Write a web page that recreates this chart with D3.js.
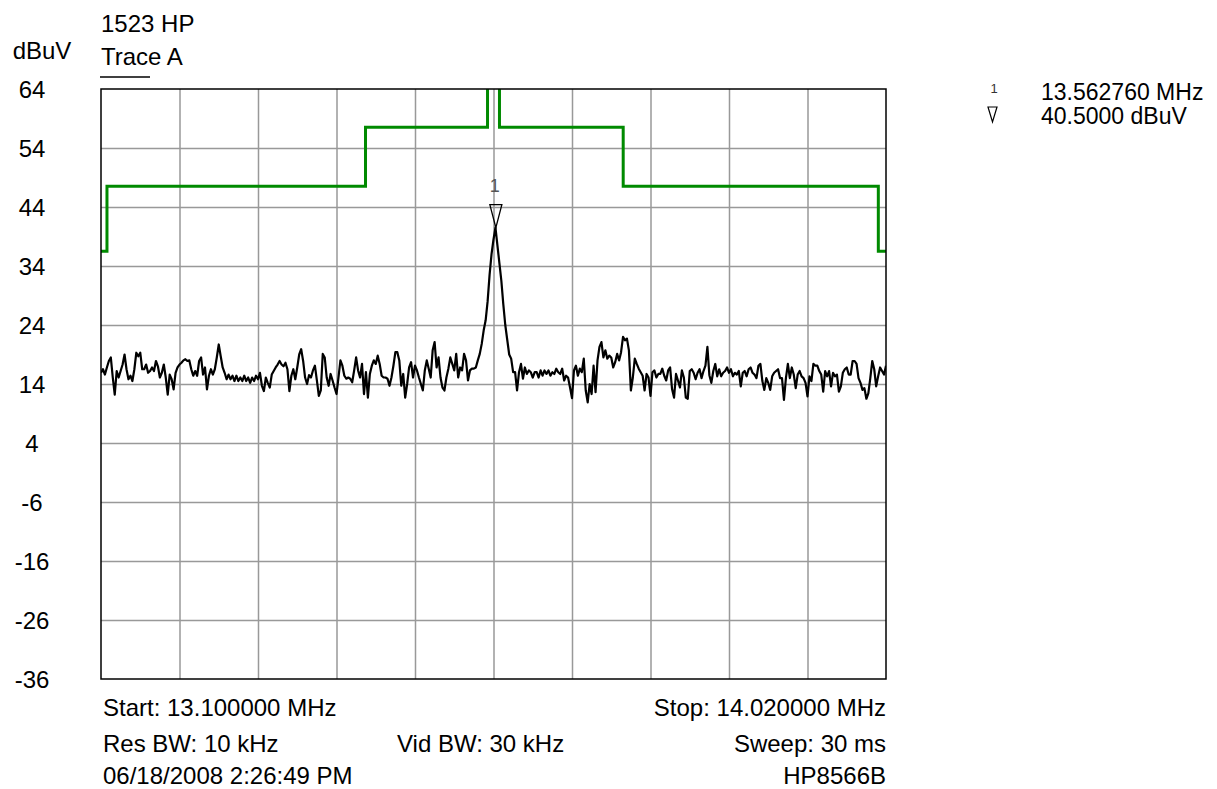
<!DOCTYPE html>
<html>
<head>
<meta charset="utf-8">
<script src="https://cdn.jsdelivr.net/npm/d3@7"></script>
<style>
    html, body { margin: 0; padding: 0; background: #fff; }
    svg text { font-family: "Liberation Sans", Arial, sans-serif; fill: #000; }
</style>
</head>
<body>
<div id="chart-container"></div>
<script>
// Datos
const freqStart = 13.1;
const freqStop = 14.02;
const yTickValues = [64, 54, 44, 34, 24, 14, 4, -6, -16, -26, -36];
const xGridCount = 10;

// Línea límite (verde): frecuencias de salto y nivel a partir de cada una
const limitFreqs = [13.1, 13.107, 13.41, 13.553, 13.567, 13.712, 14.011, 14.02];
const limitLevels = [36.5, 47.5, 57.5, 80, 57.5, 47.5, 36.5, 36.5];

// Traza A: 401 puntos de barrido, dBuV
const traceLevels = [
    15.9, 16.5, 15.6, 16.8, 17.9, 18.5, 15.1, 12.2, 16.2, 15.1,
    16.2, 17.3, 19.0, 16.5, 14.8, 15.4, 14.5, 16.5, 19.3, 18.7,
    19.3, 16.5, 16.5, 17.3, 15.9, 16.2, 16.8, 16.2, 17.9, 17.0,
    15.1, 15.9, 17.3, 15.1, 12.2, 15.6, 14.8, 13.1, 15.9, 16.8,
    17.3,
    17.6, 18.0, 18.2, 17.9, 18.0, 16.5, 15.4, 16.2, 15.4, 17.9,
    18.5, 15.6, 16.8, 13.1, 15.4, 16.5, 15.6, 16.5, 18.5, 20.7,
    18.7, 16.8, 15.9, 14.8, 15.6, 14.8, 15.4, 14.5, 15.4, 14.5,
    15.1, 14.5, 15.4, 14.5, 15.1, 14.2, 15.1, 14.5, 15.4, 14.8,
    15.9, 13.7, 12.8, 15.1, 14.2, 13.4, 15.6, 16.2, 16.8, 17.3,
    17.9, 17.3, 17.0, 17.6, 16.5, 12.8, 15.4, 16.5, 14.8, 16.8,
    19.0, 19.9, 17.9, 15.1, 14.0, 15.5, 15.1, 16.3, 17.1, 14.6,
    12.0, 12.9, 19.1, 18.5, 15.1, 13.7, 15.7, 14.6, 13.4, 12.3,
    15.1, 18.0, 17.1, 15.4, 14.9, 15.1, 14.9, 14.3, 16.3, 18.5,
    16.3, 15.1, 17.4, 12.3, 16.0, 11.7, 15.7, 17.1, 18.0, 17.4,
    18.8, 17.4, 15.4, 15.1, 15.1, 14.9, 13.7, 15.1, 17.1, 19.4,
    19.4, 18.0, 13.7, 15.7, 11.7, 14.0, 16.8, 17.7, 15.1, 17.1,
    16.3, 15.1, 14.0, 12.9, 16.3, 18.0, 16.6, 15.1, 19.7, 21.1,
    16.8, 18.5, 15.1, 13.4, 12.9, 15.1, 16.6, 18.5, 17.4, 16.3,
    19.1, 15.1, 16.8, 16.3, 19.1, 18.0, 14.6, 16.3, 16.6, 16.6,
    16.8, 18.0, 19.1, 20.8, 23.1, 24.8, 28.0, 32.5, 36.0, 38.5,
    40.5, 37.5, 34.5, 31.5, 27.5, 24.0, 21.5, 19.0, 18.3, 16.0,
    16.0, 12.9, 16.0, 17.4, 14.9, 16.8, 15.7, 16.3, 16.0, 15.1,
    16.0, 16.0, 15.1, 16.3, 15.4, 16.3, 15.7, 16.3, 15.4, 16.0,
    15.7, 16.6, 16.0, 15.7, 16.6, 14.6, 15.4, 15.1, 13.4, 11.6,
    16.3, 17.1, 15.4, 16.6, 16.0, 18.3, 12.9, 10.9, 14.0, 12.3,
    17.1, 12.6, 18.0, 20.3, 21.1, 18.5, 19.7, 18.3, 18.8, 18.5,
    16.8, 17.7, 19.1, 18.0, 19.4, 22.0, 21.4, 21.7, 19.7, 12.9,
    15.1, 18.3, 17.4, 16.6, 16.0, 15.4, 12.9, 15.7, 15.1, 12.0,
    16.0, 16.3, 15.1, 15.7, 15.7, 16.6, 15.4, 14.6, 16.3, 16.8,
    13.1, 11.7, 15.7, 14.6, 13.4, 16.3, 15.1, 11.7, 11.5, 16.2,
    16.5, 15.9, 14.8, 15.9, 16.5, 15.0, 16.2, 17.1, 20.3, 15.5,
    14.2, 16.2, 17.4, 15.3, 16.5, 15.3, 15.9, 16.2, 16.8, 15.9,
    16.5, 15.3, 15.9, 15.6, 16.2, 13.6, 15.9, 16.2, 15.3, 16.5,
    16.8, 15.9, 15.6, 15.0, 17.1, 17.4, 14.5, 13.0, 15.0, 14.2,
    13.0, 15.3, 15.9, 16.2, 16.5, 15.0, 15.0, 11.3, 15.0, 17.4,
    15.0, 16.8, 15.6, 13.3, 15.6, 16.2, 15.3, 15.0, 14.2, 11.9,
    15.3, 14.5, 17.4, 17.1, 17.1, 16.2, 15.6, 12.7, 16.2, 15.3,
    16.2, 13.6, 15.9, 15.3, 15.6, 12.7, 13.6, 15.9, 16.5, 16.8,
    15.6, 15.6, 17.9, 17.9, 17.4, 15.0, 14.2, 13.0, 13.3, 11.5,
    12.4, 15.0, 17.9, 16.5, 13.6, 15.3, 16.8, 16.2, 15.6, 17.1
];

// Marcador 1
const markerFreq = 13.56276;
const markerLevel = 40.5;

// Textos
const headerLines = ["1523 HP", "Trace A"];
const unitLabel = "dBuV";
const markerLines = ["13.562760 MHz", "40.5000 dBuV"];
const footerLeft = ["Start: 13.100000 MHz", "Res BW: 10 kHz", "06/18/2008 2:26:49 PM"];
const footerMid = ["", "Vid BW: 30 kHz", ""];
const footerRight = ["Stop: 14.020000 MHz", "Sweep: 30 ms", "HP8566B"];

// Configuración
const config = {
    width: 1217,
    height: 789,
    margin: { top: 89, left: 101 },
    plotWidth: 785,
    plotHeight: 590,
    fontSize: 24,
    gridColor: "#999999",
    limitColor: "#008a00"
};

function drawChart() {
    const svg = d3.select("#chart-container")
        .append("svg")
        .attr("width", config.width)
        .attr("height", config.height);

    const g = svg.append("g")
        .attr("transform", `translate(${config.margin.left},${config.margin.top})`);

    const x = d3.scaleLinear().domain([freqStart, freqStop]).range([0, config.plotWidth]);
    const y = d3.scaleLinear().domain([-36, 64]).range([config.plotHeight, 0]);

    // Rejilla
    const xGrid = d3.range(1, xGridCount).map(i => freqStart + i * (freqStop - freqStart) / xGridCount);
    g.append("g")
        .attr("transform", `translate(0,${config.plotHeight})`)
        .call(d3.axisBottom(x).tickValues(xGrid).tickSize(-config.plotHeight).tickFormat(""))
        .call(a => a.select(".domain").remove())
        .call(a => a.selectAll("line").attr("stroke", config.gridColor).attr("stroke-width", 1.5));

    g.append("g")
        .call(d3.axisLeft(y).tickValues(yTickValues.slice(1, -1)).tickSize(-config.plotWidth).tickFormat(""))
        .call(a => a.select(".domain").remove())
        .call(a => a.selectAll("line").attr("stroke", config.gridColor).attr("stroke-width", 1.5));

    // Etiquetas del eje Y
    g.append("g")
        .call(d3.axisLeft(y).tickValues(yTickValues).tickSize(0).tickFormat(d => d))
        .call(a => a.select(".domain").remove())
        .call(a => a.selectAll("text")
            .attr("x", 32 - config.margin.left)
            .attr("dy", "0.36em")
            .attr("text-anchor", "middle")
            .style("font-size", config.fontSize + "px")
            .style("font-family", '"Liberation Sans", Arial, sans-serif')
            .attr("fill", "#000"));

    // Recorte del área del gráfico
    svg.append("defs").append("clipPath")
        .attr("id", "plot-clip")
        .append("rect")
        .attr("width", config.plotWidth)
        .attr("height", config.plotHeight);

    const plot = g.append("g").attr("clip-path", "url(#plot-clip)");

    // Línea límite
    const limitData = limitFreqs.map((f, i) => [f, limitLevels[i]]);
    plot.append("path")
        .datum(limitData)
        .attr("fill", "none")
        .attr("stroke", config.limitColor)
        .attr("stroke-width", 3)
        .attr("d", d3.line().x(d => x(d[0])).y(d => y(d[1])).curve(d3.curveStepAfter));

    // Traza
    const step = (freqStop - freqStart) / (traceLevels.length - 1);
    plot.append("path")
        .datum(traceLevels)
        .attr("fill", "none")
        .attr("stroke", "#000")
        .attr("stroke-width", 2.2)
        .attr("stroke-linejoin", "round")
        .attr("d", d3.line().x((d, i) => x(freqStart + i * step)).y(d => y(d)));

    // Marco
    g.append("rect")
        .attr("width", config.plotWidth)
        .attr("height", config.plotHeight)
        .attr("fill", "none")
        .attr("stroke", "#000")
        .attr("stroke-width", 1.5);

    // Marcador sobre el pico
    const mx = x(markerFreq);
    const my = y(markerLevel);
    g.append("path")
        .attr("d", `M${mx - 6},${my - 23}L${mx + 6},${my - 23}L${mx},${my}Z`)
        .attr("fill", "none")
        .attr("stroke", "#000")
        .attr("stroke-width", 1.3);
    g.append("text")
        .attr("x", mx - 1)
        .attr("y", my - 36)
        .attr("text-anchor", "middle")
        .style("font-size", "18px")
        .style("fill", "#555")
        .text("1");

    addTexts(svg);
}

function addTexts(svg) {
    const fs = config.fontSize + "px";

    svg.append("text").attr("x", 101).attr("y", 32).style("font-size", fs).text(headerLines[0]);
    svg.append("text").attr("x", 101).attr("y", 65).style("font-size", fs).text(headerLines[1]);
    svg.append("line")
        .attr("x1", 100).attr("x2", 150).attr("y1", 77).attr("y2", 77)
        .attr("stroke", "#000").attr("stroke-width", 1.5);
    svg.append("text").attr("x", 42).attr("y", 59).attr("text-anchor", "middle")
        .style("font-size", fs).text(unitLabel);

    // Lectura del marcador (arriba a la derecha)
    svg.append("text").attr("x", 994).attr("y", 93).attr("text-anchor", "middle")
        .style("font-size", "13px").style("fill", "#333").text("1");
    svg.append("path")
        .attr("d", "M988,107L997,107L992.5,122Z")
        .attr("fill", "none").attr("stroke", "#000").attr("stroke-width", 1.2);
    markerLines.forEach((t, i) => {
        svg.append("text").attr("x", 1041).attr("y", 100 + i * 24)
            .style("font-size", "23px").text(t);
    });

    // Pie
    const rows = [716, 752, 784];
    rows.forEach((yy, i) => {
        svg.append("text").attr("x", 103).attr("y", yy).style("font-size", fs).text(footerLeft[i]);
        if (footerMid[i]) {
            svg.append("text").attr("x", 397).attr("y", yy).style("font-size", fs).text(footerMid[i]);
        }
        svg.append("text").attr("x", 886).attr("y", yy).attr("text-anchor", "end")
            .style("font-size", fs).text(footerRight[i]);
    });
}

drawChart();
</script>
</body>
</html>
